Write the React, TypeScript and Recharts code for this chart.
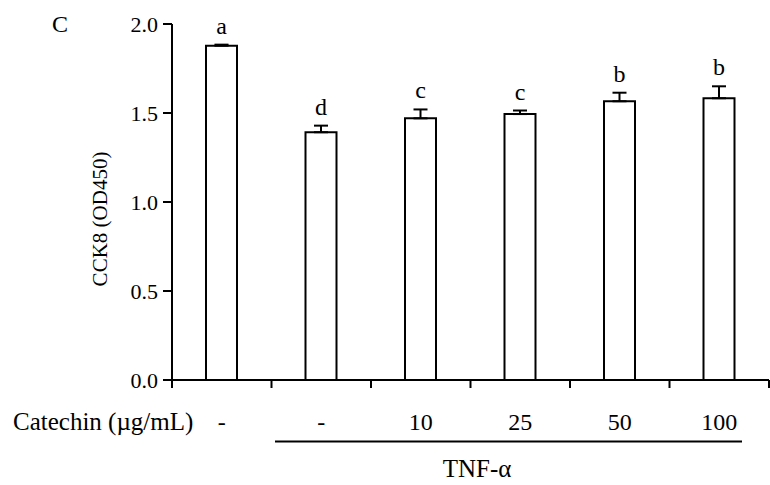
import React from 'react';
import { ComposedChart, Bar, XAxis, YAxis, ErrorBar, LabelList } from 'recharts';

const categories = ['-', '-', '10', '25', '50', '100'];
const means = [1.878, 1.392, 1.47, 1.494, 1.566, 1.583];
const sems = [0.006, 0.037, 0.05, 0.02, 0.048, 0.067];
const letters = ['a', 'd', 'c', 'c', 'b', 'b'];
const yTicks = [0, 0.5, 1.0, 1.5, 2.0];
const edgeTicks = [-0.5, 0.5, 1.5, 2.5, 3.5, 4.5, 5.5];

const data = categories.map((c, i) => ({
  key: i,
  dose: c,
  mean: means[i],
  err: [0, sems[i]],
  letter: letters[i],
}));

const FONT = '"Liberation Serif", "Times New Roman", serif';

const CatTick = (props: any) => {
  const { x, y, payload } = props;
  return (
    <text x={x} y={y} dy={42} textAnchor="middle" fontFamily={FONT} fontSize={24} fill="#000">
      {categories[payload.value]}
    </text>
  );
};

const LetterLabel = (props: any) => {
  const vb = props.viewBox || props;
  const x = props.x ?? vb.x;
  const y = props.y ?? vb.y;
  const width = props.width ?? vb.width;
  const height = props.height ?? vb.height;
  const i = props.index;
  const ppu = height / means[i];
  const cy = y - sems[i] * ppu - 11;
  return (
    <text x={x + width / 2} y={cy} textAnchor="middle" fontFamily={FONT} fontSize={24} fill="#000">
      {letters[i]}
    </text>
  );
};

export default function App() {
  return (
    <div style={{ position: 'absolute', left: 0, top: 0, width: 770, height: 485, background: '#fff' }}>
      <ComposedChart
        width={770}
        height={485}
        data={data}
        margin={{ top: 24, right: 1, bottom: 52, left: 100 }}
      >
        <XAxis
          xAxisId="bCat"
          dataKey="key"
          type="category"
          axisLine={false}
          tickLine={false}
          tickSize={0}
          tickMargin={0}
          height={45}
          tick={<CatTick />}
          interval={0}
        />
        <XAxis
          xAxisId="aEdge"
          dataKey="key"
          type="number"
          domain={[-0.5, 5.5]}
          ticks={edgeTicks}
          allowDataOverflow
          interval={0}
          tickFormatter={() => ''}
          tickSize={8}
          height={8}
          axisLine={{ stroke: '#000', strokeWidth: 2 }}
          tickLine={{ stroke: '#000', strokeWidth: 2 }}
        />
        <YAxis
          width={72}
          domain={[0, 2]}
          ticks={yTicks}
          tickFormatter={(v: number) => v.toFixed(1)}
          tickSize={9}
          tickMargin={5}
          axisLine={{ stroke: '#000', strokeWidth: 2 }}
          tickLine={{ stroke: '#000', strokeWidth: 2 }}
          tick={{ fill: '#000', fontSize: 22, fontFamily: FONT }}
        />
        <Bar
          xAxisId="bCat"
          dataKey="mean"
          barSize={31}
          fill="#fff"
          stroke="#000"
          strokeWidth={2}
          isAnimationActive={false}
        >
          <ErrorBar dataKey="err" direction="y" width={7} stroke="#000" strokeWidth={2} isAnimationActive={false} />
          <LabelList dataKey="letter" content={<LetterLabel />} />
        </Bar>
      </ComposedChart>
      <svg
        width={770}
        height={485}
        style={{ position: 'absolute', left: 0, top: 0, pointerEvents: 'none' }}
      >
        <text x={52} y={32} fontFamily={FONT} fontSize={24} fill="#000">C</text>
        <text
          x={107}
          y={219}
          transform="rotate(-90, 107, 219)"
          textAnchor="middle"
          fontFamily={FONT}
          fontSize={21}
          fill="#000"
        >
          CCK8 (OD450)
        </text>
        <text x={13} y={430} fontFamily={FONT} fontSize={25} fill="#000">Catechin (µg/mL)</text>
        <line x1={275} y1={441.5} x2={742} y2={441.5} stroke="#000" strokeWidth={2} />
        <text x={477} y={477} textAnchor="middle" fontFamily={FONT} fontSize={25} fill="#000">TNF-α</text>
      </svg>
    </div>
  );
}
